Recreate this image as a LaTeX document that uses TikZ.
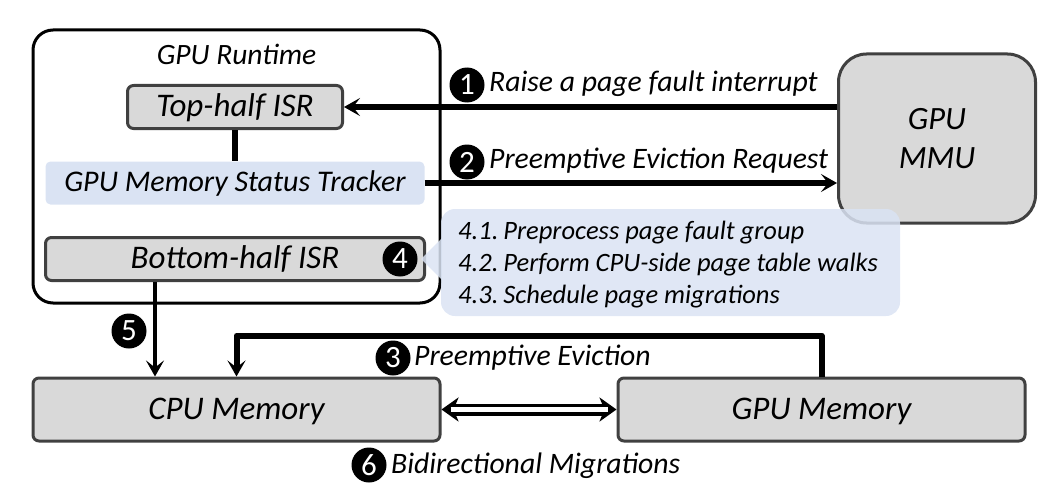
\documentclass[tikz,border=0pt]{standalone}
\usepackage{fontspec}
\setmainfont{Carlito}
\usetikzlibrary{arrows.meta}
\definecolor{boxgray}{HTML}{D9D9D9}
\definecolor{boxedge}{HTML}{404040}
\definecolor{paleblue}{HTML}{DAE3F3}
\tikzset{
  graybox/.style={draw=boxedge, line width=3pt, fill=boxgray, rounded corners=6pt, inner sep=0pt, font=\fontsize{33}{38}\itshape},
  numdot/.style={circle, fill=black, text=white, inner sep=0pt, minimum size=35pt, font=\fontsize{31}{31}\selectfont},
  lbl/.style={font=\fontsize{29.7}{34}\itshape, inner sep=0pt, anchor=west},
  thick line/.style={line width=6pt},
  tip/.style={-{Stealth[length=16pt,width=18pt,inset=7pt]}}
}
\begin{document}
\begin{tikzpicture}[x=1pt,y=-1pt,line join=round]
    \useasboundingbox (0,0) rectangle (1055,487);
    % runtime frame
    \node[draw=black, line width=3pt, rounded corners=20pt, minimum width=407pt, minimum height=273pt, inner sep=0pt] (runtime) at (236.5,166.5) {};
    \node[font=\fontsize{29.5}{34}\itshape, inner sep=0pt] (runtimelbl) at (236.5,54) {GPU Runtime};
    \node[graybox, minimum width=215pt, minimum height=43pt, text height=25pt, text depth=7pt] (top) at (235,107) {Top-half ISR};
    \node[fill=paleblue, rounded corners=5pt, minimum width=379pt, minimum height=43pt, inner sep=0pt, font=\fontsize{30}{34}\itshape, text height=23pt, text depth=7pt] (tracker) at (235,183) {GPU Memory Status Tracker};
    \node[graybox, minimum width=379pt, minimum height=43pt, text height=25pt, text depth=7pt] (bottom) at (235,259) {Bottom-half ISR};
    \node[graybox, rounded corners=28pt, minimum width=197pt, minimum height=169pt, align=center, font=\fontsize{32.5}{39}\itshape] (mmu) at (937,138.5) {GPU\\MMU};
    \node[graybox, minimum width=407pt, minimum height=63pt, text height=26pt, text depth=7pt] (cpumem) at (236.5,409.5) {CPU Memory};
    \node[graybox, minimum width=407pt, minimum height=63pt, text height=26pt, text depth=7pt] (gpumem) at (821.5,409.5) {GPU Memory};
    % callout
    \fill[paleblue, fill opacity=.85, rounded corners=14pt] (441,209) rectangle (900,316);
    \fill[paleblue, fill opacity=.85] (442,238) -- (421,259) -- (442,280) -- cycle;
    \node[lbl, font=\fontsize{26.5}{32}\itshape, align=left] (steps) at (458,264.5) {4.1.\kern-3pt{} Preprocess page fault group\\4.2.\kern-3pt{} Perform CPU-side page table walks\\4.3.\kern-3pt{} Schedule page migrations};
    % connectors
    \draw[thick line, tip] (mmu.west |- top) -- (top.east);
    \draw[thick line] (top) -- (tracker);
    \draw[thick line, tip] (tracker.east) -- (mmu.west |- tracker);
    \coordinate (fivex) at (155,0);
    \draw[line width=4.5pt, tip] (bottom.south -| fivex) -- (cpumem.north -| fivex);
    \draw[line width=6pt, tip] (gpumem.north) -- ++(0,-41) -| (cpumem.north);
    \draw[line width=12pt, {Stealth[length=17pt,width=24pt,inset=5pt]}-{Stealth[length=17pt,width=24pt,inset=5pt]}] (cpumem.east) -- (gpumem.west);
    \draw[line width=4.5pt, white, shorten <=9pt, shorten >=9pt] (cpumem.east) -- (gpumem.west);
    % step numbers
    \node[numdot] (one) at (467,85) {1};
    \node[lbl] (onelbl) at (489,84) {Raise a page fault interrupt};
    \node[numdot] (two) at (467,162) {2};
    \node[lbl] (twolbl) at (489,161) {Preemptive Eviction Request};
    \node[numdot] (three) at (393,358) {3};
    \node[lbl] (threelbl) at (414,358) {Preemptive Eviction};
    \node[numdot] (four) at (400,259) {4};
    \node[numdot] (five) at (129,331) {5};
    \node[numdot] (six) at (369,465) {6};
    \node[lbl] (sixlbl) at (391,466) {Bidirectional Migrations};
\end{tikzpicture}
\end{document}
